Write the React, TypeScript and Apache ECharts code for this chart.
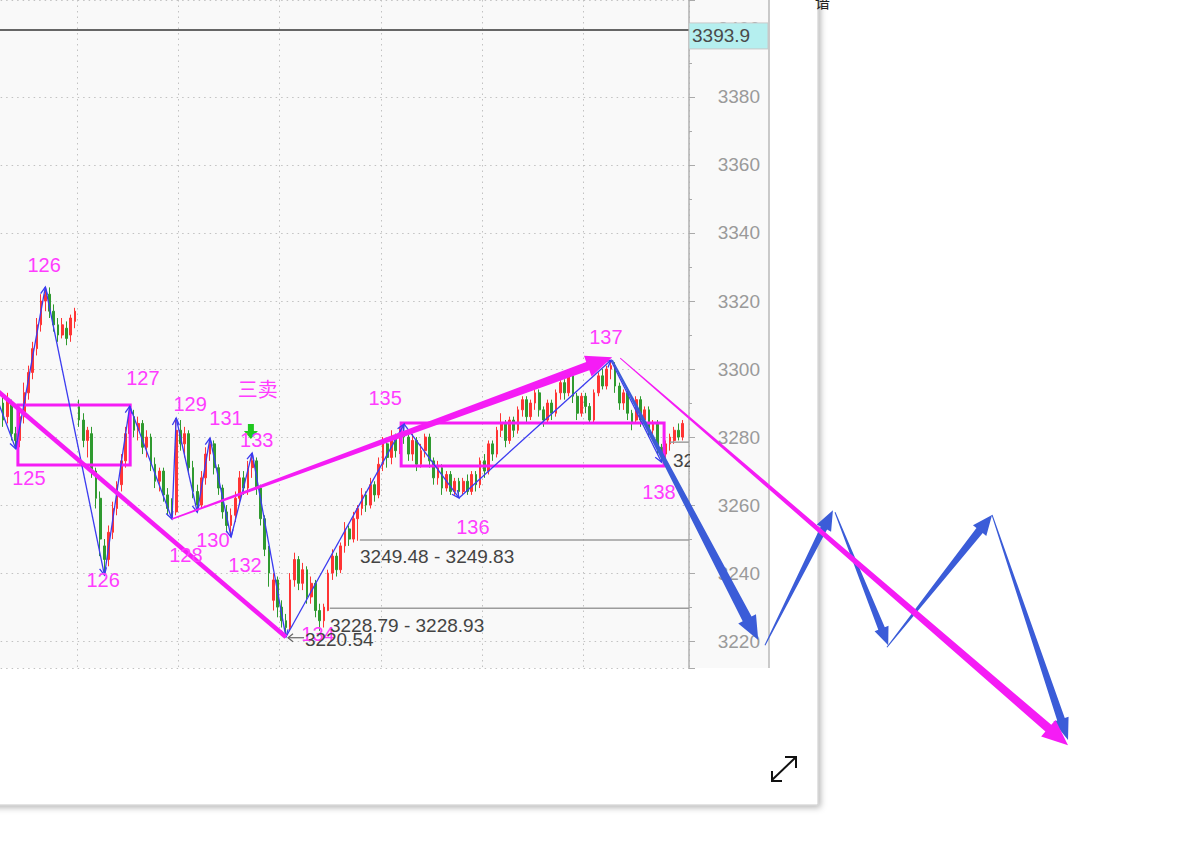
import React, { useEffect, useRef } from "react";
import * as echarts from "echarts";

// ---------- DATA ----------
// candles: [open, close, low, high]
const candles: number[][] = [
  [3296,3292,3290,3298],[3292,3294,3289,3296],[3294,3289,3287,3295],[3289,3291,3286,3293],
  [3290,3285,3283,3292],[3286,3291,3284,3293],[3290,3281,3279,3291],[3281,3279,3276.5,3283],
  [3279,3286,3277,3288],[3286,3293,3284,3296],[3293,3299,3291,3301],[3299,3306,3297,3308],
  [3306,3313,3304,3315],[3313,3320,3311,3322],[3320,3322,3317,3324.1],[3322,3317,3315,3324],
  [3317,3313,3311,3319],[3313,3310,3308,3315],[3310,3313,3309,3315],[3312,3309,3307,3314],
  [3310,3315,3308,3316],[3314,3317,3312,3318],[3289,3285,3283,3291],[3285,3279,3277,3287],
  [3279,3282,3274,3283],[3281,3270,3268,3283],[3270,3262,3259,3271],[3262,3250,3245,3264],
  [3248,3244,3239.4,3250],[3244,3252,3242,3254],[3252,3259,3250,3261],[3259,3266,3257,3267],
  [3266,3273,3264,3275],[3273,3281,3271,3283],[3281,3286,3279,3289.1],[3286,3282,3280,3288],
  [3282,3284,3279,3286],[3284,3277,3275,3285],[3277,3280,3274,3282],[3280,3272,3270,3281],
  [3272,3267,3265,3274],[3267,3270,3264,3271],[3270,3263,3261,3271],[3263,3259,3257,3265],
  [3260,3258,3255.9,3262],[3258,3282,3257,3285.6],[3282,3278,3276,3285],[3278,3281,3274,3283],
  [3281,3271,3269,3282],[3271,3264,3262,3273],[3264,3260,3257.9,3266],[3260,3268,3259,3270],
  [3268,3275,3266,3277],[3275,3278,3273,3279.7],[3278,3271,3269,3279],[3271,3265,3263,3272],
  [3265,3258,3256,3266],[3258,3254,3252,3260],[3254,3257,3250.6,3259],[3257,3262,3255,3264],
  [3262,3268,3260,3270],[3268,3265,3263,3270],[3265,3271,3263,3273],[3271,3273,3268,3275.3],
  [3273,3265,3263,3274],[3265,3256,3254,3266],[3256,3247,3245,3257],[3247,3240,3236,3248],
  [3232,3238,3229,3240],[3238,3230,3227,3239],[3230,3226,3224,3232],[3226,3224,3221.2,3228],
  [3224,3238,3223,3240],[3238,3244,3236,3246],[3244,3237,3235,3245],[3237,3241,3235,3243],
  [3241,3233,3231,3242],[3233,3237,3231,3239],[3237,3229,3227,3238],[3229,3226,3223,3231],
  [3226,3230,3224,3231],[3229,3240,3228.8,3241],[3240,3245,3238,3247],[3245,3241,3239,3246],
  [3241,3248,3240,3249],[3248,3253,3246,3255],[3253,3250,3248,3254],[3250,3256,3249,3258],
  [3256,3259,3249.5,3260],[3259,3263,3257,3265],[3263,3260,3258,3264],[3260,3266,3259,3268],
  [3266,3263,3261,3267],[3263,3272,3262,3274],[3272,3278,3270,3280],[3278,3274,3271,3279],
  [3274,3280,3272,3282],[3280,3276,3274,3281],[3276,3281,3275,3283],[3281,3280,3278,3283.8],
  [3280,3275,3273,3282],[3275,3279,3273,3281],[3279,3272,3270,3280],[3272,3276,3271,3278],
  [3276,3280,3274,3281],[3280,3273,3271,3281],[3273,3268,3266,3274],[3268,3271,3266,3273],
  [3271,3265,3263,3272],[3265,3269,3264,3270],[3269,3264,3263,3270],[3264,3267,3263,3268],
  [3267,3264,3262.1,3268],[3264,3267,3263,3268],[3267,3264,3263,3269],[3264,3269,3263,3270],
  [3269,3266,3264,3270],[3266,3273,3265,3274],[3273,3270,3268,3275],[3270,3278,3269,3279],
  [3278,3275,3273,3279],[3275,3282,3274,3283],[3282,3284,3280,3287],[3284,3279,3277,3285],
  [3279,3285,3278,3286],[3285,3282,3280,3286],[3282,3288,3281,3289],[3288,3291,3286,3292],
  [3291,3286,3284,3292],[3286,3290,3285,3291],[3290,3293,3288,3294],[3293,3288,3286,3294],
  [3288,3285,3283,3289],[3285,3290,3284,3291],[3290,3287,3285,3291],[3287,3293,3286,3294],
  [3293,3296,3291,3297],[3296,3293,3291,3297],[3293,3298,3292,3299],[3298,3292,3290,3299],
  [3292,3287,3285,3293],[3287,3292,3286,3293],[3292,3289,3287,3293],[3289,3285,3284,3290],
  [3285,3293,3284,3294],[3293,3298,3292,3299],[3298,3295,3294,3300],[3295,3300,3294,3301],
  [3300,3301,3297,3302.6],[3301,3295,3293,3302],[3295,3290,3288,3296],[3290,3293,3288,3294],
  [3293,3287,3285,3294],[3287,3284,3282,3288],[3285,3291,3284,3292],[3291,3285,3283,3292],
  [3285,3288,3284,3289],[3288,3282,3280,3289],[3282,3284,3280,3285],[3284,3277,3275,3285],
  [3277,3275,3272.6,3278],[3275,3278,3273,3279],[3278,3280,3276,3281],[3279,3282,3278,3283],
  [3282,3280,3279,3284],[3280,3284,3279,3285],
];
const barLabels: string[] = candles.map((_, i) => `K${i}`).concat(["K166"]);

// zigzag pivots (bar index, price)
const pivotBar = [2, 7, 14, 28, 34, 44, 45, 50, 53, 58, 63, 71, 99, 112, 148, 160];
const pivotPrice = [3293, 3276.5, 3324.1, 3239.4, 3289.1, 3255.9, 3285.6, 3257.9, 3279.7, 3250.6, 3275.3, 3221.2, 3283.8, 3262.1, 3302.6, 3272.6];

// wave labels
const waveText = ["125", "126", "126", "127", "128", "129", "131", "三卖", "133", "130", "132", "134", "135", "136", "137", "138"];
const waveTextBar = [10.1, 13.7, 27.7, 37.1, 47.3, 48.3, 56.8, 64.3, 64.1, 53.7, 61.3, 78.6, 94.5, 115.3, 146.8, 159.4];
const waveTextPrice = [3267.9, 3330.6, 3237.9, 3297.4, 3245.3, 3289.7, 3285.6, 3293.8, 3279.1, 3249.7, 3242.4, 3222.1, 3291.5, 3253.5, 3309.4, 3263.8];

// centre boxes
const boxLeft = [7.5, 98.3];
const boxRight = [34.1, 160.6];
const boxTop = [3289.4, 3284.1];
const boxBottom = [3271.8, 3271.5];

// straight trend line
const trendBar = [0, 71];
const trendPrice = [3296.4, 3221.2];

// tapered arrows (from -> to)
const magentaFromBar = [44, 150.2];
const magentaFromPrice = [3255.9, 3303.2];
const magentaToBar = [148.3, 256.3];
const magentaToPrice = [3303.5, 3189.4];

const blueFromBar = [148.3, 184.5, 201.1, 213.4, 238.3];
const blueFromPrice = [3302.6, 3218.8, 3257.9, 3218.2, 3257.1];
const blueToBar = [182.9, 200.6, 213.7, 238.3, 256.3];
const blueToPrice = [3220.3, 3258.5, 3218.8, 3257.1, 3190.9];

// price level lines and their texts
const levelStart = [88.5, 81.4, 162.0, 71.5];
const levelEnd = [166.5, 166.5, 166.5, 75.3];
const levelPrice = [3249.7, 3229.7, 3278.5, 3221.0];
const levelText = ["3249.48 - 3249.83", "3228.79 - 3228.93", "32", "3220.54"];
const levelTextBar = [88.55, 81.44, 162.7, 75.5];
const levelTextPrice = [3245.0, 3224.7, 3273.2, 3220.6];
const plotEndBar = 166.5;

const lastLinePrice = 3399.7;
const lastLineLabel = "3393.9";
const sellSignalBar = 62.7;
const sellSignalPrice = 3281.5;

// ---------- STYLE / LAYOUT ----------
const FONT = '"Liberation Sans", Arial, "Noto Sans CJK SC", sans-serif';
const MAG = "#f51cf5";
const MAG_TEXT = "#ff3cff";
const BLUE = "#3b5cd8";
const ZIG = "#3b3bf0";
const PANEL_BG = "#f9f9f9";
const BAR_PX = 612 / 145;
const GRID_LEFT = 77 - 22 * BAR_PX;
const N_BARS = barLabels.length;
const PLOT_H = 668;
const Y_MIN = 3212.1;
const Y_MAX = 3408.5;
const OV_W = 1179 - GRID_LEFT;
const OV_XMAX = -0.5 + OV_W / BAR_PX;
const OV_YMIN = Y_MAX - (847 * (Y_MAX - Y_MIN)) / PLOT_H;

const magentaStyle = [
  { w0: 1.5, w1: 9, hl: 26, hw: 22 },
  { w0: 1, w1: 9, hl: 26, hw: 22 },
];
const blueStyle = [
  { w0: 1.5, w1: 10, hl: 24, hw: 20 },
  { w0: 1, w1: 7, hl: 20, hw: 16 },
  { w0: 1, w1: 7, hl: 18, hw: 15 },
  { w0: 1, w1: 8, hl: 20, hw: 17 },
  { w0: 1, w1: 8, hl: 22, hw: 16 },
];

function taper(a: number[], b: number[], s: any) {
  const dx = b[0] - a[0];
  const dy = b[1] - a[1];
  const len = Math.hypot(dx, dy) || 1;
  const ux = dx / len, uy = dy / len;
  const nx = -uy, ny = ux;
  const nk = [b[0] - ux * s.hl, b[1] - uy * s.hl];
  return [
    [a[0] + (nx * s.w0) / 2, a[1] + (ny * s.w0) / 2],
    [nk[0] + (nx * s.w1) / 2, nk[1] + (ny * s.w1) / 2],
    [nk[0] + (nx * s.hw) / 2, nk[1] + (ny * s.hw) / 2],
    [b[0], b[1]],
    [nk[0] - (nx * s.hw) / 2, nk[1] - (ny * s.hw) / 2],
    [nk[0] - (nx * s.w1) / 2, nk[1] - (ny * s.w1) / 2],
    [a[0] - (nx * s.w0) / 2, a[1] - (ny * s.w0) / 2],
  ];
}

function arrowSeries(fromBar: number[], fromPrice: number[], toBar: number[], toPrice: number[], styles: any[], color: string, z: number) {
  return {
    type: "custom",
    xAxisIndex: 1,
    yAxisIndex: 1,
    z,
    silent: true,
    data: fromBar.map((x, i) => [x, fromPrice[i], toBar[i], toPrice[i]]),
    renderItem: (params: any, api: any) => {
      const a = api.coord([api.value(0), api.value(1)]);
      const b = api.coord([api.value(2), api.value(3)]);
      return {
        type: "polygon",
        shape: { points: taper(a, b, styles[params.dataIndex]) },
        style: { fill: color, stroke: null },
      };
    },
  };
}

function buildOption() {
  const zigData = pivotBar.slice(1).map((x, i) => [pivotBar[i], pivotPrice[i], x, pivotPrice[i + 1]]);
  return {
    animation: false,
    backgroundColor: "transparent",
    graphic: {
      elements: [
        {
          type: "rect", z: -30, silent: true,
          shape: { x: -10, y: -10, width: 828, height: 815 },
          style: { fill: "#ffffff", stroke: "#c9c9c9", lineWidth: 1, shadowBlur: 6, shadowColor: "rgba(0,0,0,0.3)", shadowOffsetX: 2, shadowOffsetY: 2 },
        },
        { type: "rect", z: -29, silent: true, shape: { x: 0, y: 0, width: 769, height: 668 }, style: { fill: PANEL_BG } },
        { type: "line", z: -28, silent: true, shape: { x1: 769, y1: 0, x2: 769, y2: 668 }, style: { stroke: "#b8b8b8", lineWidth: 1.5 } },
        { type: "line", z: 50, silent: true, shape: { x1: 772, y1: 780, x2: 795, y2: 758 }, style: { stroke: "#111", lineWidth: 2 } },
        { type: "polyline", z: 50, silent: true, shape: { points: [[772, 771], [772, 781], [782, 781]] }, style: { stroke: "#111", lineWidth: 2, fill: "none" } },
        { type: "polyline", z: 50, silent: true, shape: { points: [[785, 757], [796, 757], [796, 768]] }, style: { stroke: "#111", lineWidth: 2, fill: "none" } },
        { type: "text", z: 50, silent: true, x: 815, y: -5, style: { text: "谙", fill: "#222", fontSize: 15, fontFamily: FONT } },
      ],
    },
    grid: [
      { left: GRID_LEFT, top: 0, width: N_BARS * BAR_PX, height: PLOT_H, show: false, containLabel: false, outerBoundsMode: "none" },
      { left: GRID_LEFT, top: 0, width: OV_W, height: 847, show: false, containLabel: false, outerBoundsMode: "none" },
    ],
    xAxis: [
      {
        type: "category", gridIndex: 0, data: barLabels, boundaryGap: true,
        axisLine: { show: false }, axisTick: { show: false }, axisLabel: { show: false },
        splitLine: {
          show: true,
          interval: (idx: number) => idx >= 22 && idx < 166 && (idx - 22) % 24 === 0,
          lineStyle: { color: "#c2c2c2", width: 1, type: [1.5, 4] },
        },
      },
      { type: "value", gridIndex: 1, min: -0.5, max: OV_XMAX, show: false },
    ],
    yAxis: [
      {
        type: "value", gridIndex: 0, position: "right", min: Y_MIN, max: Y_MAX,
        minInterval: 20, maxInterval: 20, splitNumber: 10,
        axisLine: { show: true, lineStyle: { color: "#b0b0b0", width: 1.5 } },
        axisTick: { show: true, length: 6, lineStyle: { color: "#aaa" } },
        minorTick: { show: true, splitNumber: 2, length: 3, lineStyle: { color: "#aaa" } },
        axisLabel: {
          color: "#9a9a9a", fontSize: 19, fontFamily: FONT, align: "right", margin: 71,
          showMinLabel: false, showMaxLabel: false,
          formatter: (v: number) => String(Math.round(v)),
        },
        splitLine: { show: true, lineStyle: { color: "#c2c2c2", width: 1, type: [1.5, 4] } },
      },
      { type: "value", gridIndex: 1, min: OV_YMIN, max: Y_MAX, show: false },
    ],
    series: [
      {
        type: "candlestick", xAxisIndex: 0, yAxisIndex: 0, z: 2, silent: true,
        data: candles, barWidth: 2.2,
        itemStyle: { color: "#ff3434", color0: "#2f9a2f", borderColor: "#ff3434", borderColor0: "#2f9a2f", borderWidth: 1 },
      },
      // last price line + label
      {
        type: "custom", xAxisIndex: 1, yAxisIndex: 1, z: 3, silent: true,
        data: [[-0.5, lastLinePrice, plotEndBar]],
        renderItem: (params: any, api: any) => {
          const a = api.coord([api.value(0), api.value(1)]);
          const b = api.coord([api.value(2), api.value(1)]);
          return {
            type: "group",
            children: [
              { type: "line", shape: { x1: a[0], y1: a[1], x2: b[0], y2: b[1] }, style: { stroke: "#666", lineWidth: 2 } },
              { type: "rect", shape: { x: b[0], y: b[1] - 7, width: 79, height: 26 }, style: { fill: "#b5efef", stroke: "#c8c8c8", lineWidth: 1 } },
              { type: "text", x: b[0] + 3, y: b[1] + 6, style: { text: lastLineLabel, fill: "#4a4a4a", fontSize: 19, fontFamily: FONT, align: "left", verticalAlign: "middle" } },
            ],
          };
        },
      },
      // level lines
      {
        type: "custom", xAxisIndex: 1, yAxisIndex: 1, z: 3, silent: true,
        data: levelStart.map((x, i) => [x, levelPrice[i], levelEnd[i]]),
        renderItem: (params: any, api: any) => {
          const a = api.coord([api.value(0), api.value(1)]);
          const b = api.coord([api.value(2), api.value(1)]);
          if (params.dataIndex === 3) {
            return {
              type: "group",
              children: [
                { type: "line", shape: { x1: a[0], y1: a[1], x2: b[0], y2: b[1] }, style: { stroke: "#666", lineWidth: 1.2 } },
                { type: "polyline", shape: { points: [[a[0] + 5, a[1] - 4], [a[0], a[1]], [a[0] + 5, a[1] + 4]] }, style: { stroke: "#666", lineWidth: 1.2, fill: "none" } },
              ],
            };
          }
          return { type: "line", shape: { x1: a[0], y1: a[1], x2: b[0], y2: b[1] }, style: { stroke: "#9c9c9c", lineWidth: 1.5 } };
        },
      },
      // boxes
      {
        type: "custom", xAxisIndex: 1, yAxisIndex: 1, z: 3, silent: true,
        data: boxLeft.map((x, i) => [x, boxTop[i], boxRight[i], boxBottom[i]]),
        renderItem: (params: any, api: any) => {
          const a = api.coord([api.value(0), api.value(1)]);
          const b = api.coord([api.value(2), api.value(3)]);
          return { type: "rect", shape: { x: a[0], y: a[1], width: b[0] - a[0], height: b[1] - a[1] }, style: { fill: "none", stroke: MAG, lineWidth: 3 } };
        },
      },
      // zigzag
      {
        type: "custom", xAxisIndex: 1, yAxisIndex: 1, z: 4, silent: true,
        data: zigData,
        renderItem: (params: any, api: any) => {
          const a = api.coord([api.value(0), api.value(1)]);
          const b = api.coord([api.value(2), api.value(3)]);
          const dx = b[0] - a[0], dy = b[1] - a[1];
          const len = Math.hypot(dx, dy) || 1;
          const ux = dx / len, uy = dy / len;
          const L = 8, c = Math.cos(0.45), s = Math.sin(0.45);
          const w1 = [b[0] - L * (ux * c - uy * s), b[1] - L * (uy * c + ux * s)];
          const w2 = [b[0] - L * (ux * c + uy * s), b[1] - L * (uy * c - ux * s)];
          return {
            type: "group",
            children: [
              { type: "line", shape: { x1: a[0], y1: a[1], x2: b[0], y2: b[1] }, style: { stroke: ZIG, lineWidth: 1.3 } },
              { type: "polyline", shape: { points: [w1, b, w2] }, style: { stroke: ZIG, lineWidth: 1.3, fill: "none" } },
            ],
          };
        },
      },
      // straight magenta trend
      {
        type: "line", xAxisIndex: 1, yAxisIndex: 1, z: 5, silent: true, symbol: "none",
        data: trendBar.map((x, i) => [x, trendPrice[i]]),
        lineStyle: { color: MAG, width: 4.5 },
      },
      arrowSeries(blueFromBar, blueFromPrice, blueToBar, blueToPrice, blueStyle, BLUE, 5),
      arrowSeries(magentaFromBar, magentaFromPrice, magentaToBar, magentaToPrice, magentaStyle, MAG, 6),
      // sell signal
      {
        type: "custom", xAxisIndex: 1, yAxisIndex: 1, z: 7, silent: true,
        data: [[sellSignalBar, sellSignalPrice]],
        renderItem: (params: any, api: any) => {
          const p = api.coord([api.value(0), api.value(1)]);
          const [x, y] = p;
          return {
            type: "polygon",
            shape: { points: [[x - 3, y - 8], [x + 3, y - 8], [x + 3, y - 1], [x + 7, y - 1], [x, y + 7], [x - 7, y - 1], [x - 3, y - 1]] },
            style: { fill: "#1fc81f" },
          };
        },
      },
      // wave labels
      {
        type: "custom", xAxisIndex: 1, yAxisIndex: 1, z: 8, silent: true,
        data: waveTextBar.map((x, i) => [x, waveTextPrice[i]]),
        renderItem: (params: any, api: any) => {
          const p = api.coord([api.value(0), api.value(1)]);
          return { type: "text", x: p[0], y: p[1], style: { text: waveText[params.dataIndex], fill: MAG_TEXT, fontSize: 20, fontFamily: FONT, align: "center", verticalAlign: "middle" } };
        },
      },
      // level texts (the one at the plot edge is cut by the axis)
      {
        type: "custom", xAxisIndex: 1, yAxisIndex: 1, z: 8, silent: true,
        data: levelTextBar.map((x, i) => [x, levelTextPrice[i]]),
        renderItem: (params: any, api: any) => {
          const p = api.coord([api.value(0), api.value(1)]);
          const text = { type: "text", x: p[0], y: p[1], style: { text: levelText[params.dataIndex], fill: "#444", fontSize: 19, fontFamily: FONT, align: "left", verticalAlign: "middle" } };
          if (params.dataIndex !== 2) return text;
          const edge = api.coord([plotEndBar, api.value(1)])[0];
          return {
            type: "group",
            children: [
              text,
              { type: "rect", z2: 10, shape: { x: edge + 1, y: p[1] - 12, width: 14, height: 24 }, style: { fill: PANEL_BG } },
            ],
          };
        },
      },
    ],
  };
}

export default function App() {
  const ref = useRef<HTMLDivElement>(null);
  useEffect(() => {
    if (!ref.current) return;
    const chart = echarts.init(ref.current, null, { renderer: "svg" });
    chart.setOption(buildOption() as any);
    return () => chart.dispose();
  }, []);
  return (
    <div style={{ position: "fixed", left: 0, top: 0, width: 1179, height: 847, background: "#fff", overflow: "hidden" }}>
      <div ref={ref} style={{ width: 1179, height: 847 }} />
    </div>
  );
}
